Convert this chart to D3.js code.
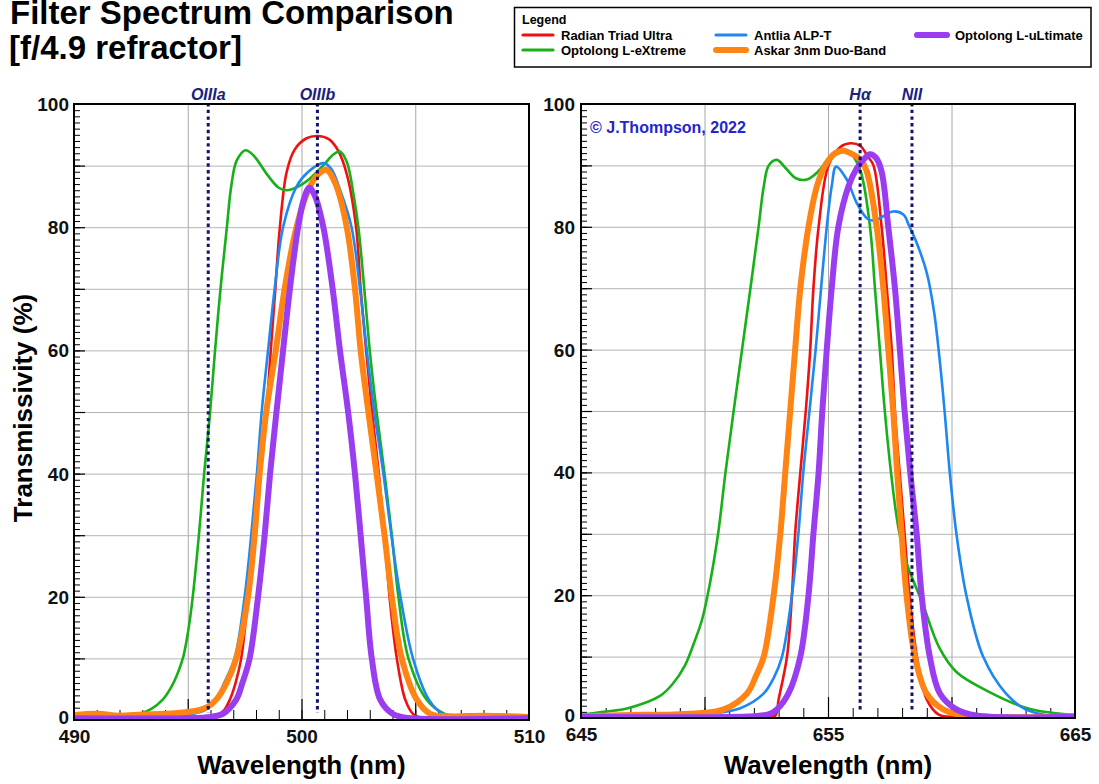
<!DOCTYPE html>
<html><head><meta charset="utf-8">
<script src="https://cdn.jsdelivr.net/npm/d3@7"></script>
<style>body{margin:0;background:#fff} svg{display:block;font-family:"Liberation Sans",Arial,sans-serif}</style>
</head><body>
<svg id="c" width="1099" height="784"></svg>
<script>
// ---------------- DATA ----------------
const seriesNames = ["Radian Triad Ultra","Optolong L-eXtreme","Antlia ALP-T","Askar 3nm Duo-Band","Optolong L-uLtimate"];
const yTickLabels = [0,20,40,60,80,100];
const oiiiTickLabels = [490,500,510];
const haTickLabels = [645,655,665];
const oiiiEmission = [["OIIIa",495.9],["OIIIb",500.7]];
const haEmission = [["H\u03B1",656.3],["NII",658.4]];

// OIII panel [wavelength nm, transmissivity %]
const oiiiRadian = [[490,0.2],[494,0.2],[495.8,0.3],[496.3,0.8],[496.6,1.6],[496.85,3.3],[497.1,6],[497.35,10],[497.65,20],[497.9,30],[498.15,40],[498.45,50],[498.65,60],[498.85,70],[499.05,80],[499.35,89],[499.7,92.6],[500.2,94.4],[500.7,94.8],[501.2,94.3],[501.6,92.5],[502.0,88.5],[502.4,80],[502.6,70],[502.84,60],[503.1,50],[503.4,40],[503.65,30],[503.87,20],[504.19,10],[504.56,3.3],[504.9,1],[505.3,0.3],[507,0.2],[510,0.2]];
const oiiiExtreme = [[490,0.5],[492,0.5],[492.9,1],[493.4,1.8],[493.9,3.3],[494.3,5.5],[494.55,7.5],[494.8,10.2],[495.0,14],[495.22,20],[495.49,30],[495.72,40],[495.96,49],[496.2,60],[496.44,70],[496.72,80],[496.91,86.6],[497.15,90.8],[497.54,92.5],[497.9,91.6],[498.5,88.5],[499.0,86.4],[499.34,86],[499.8,86.5],[500.4,88],[501.0,90.2],[501.4,91.8],[501.69,92.3],[502.0,90.5],[502.3,85],[502.5,80],[502.76,70],[503.0,60],[503.3,50],[503.65,40],[503.97,30],[504.26,20],[504.7,10],[505.5,3.3],[506.3,1],[507.5,0.5],[510,0.3]];
const oiiiAntlia = [[490,0.3],[494,0.5],[495.2,1],[495.8,1.7],[496.25,3.3],[496.6,6],[497.06,10],[497.5,20],[497.79,30],[498.04,40],[498.25,50],[498.53,60],[498.82,70],[499.19,80],[499.78,86.6],[500.3,89],[500.96,90.4],[501.3,89.5],[501.7,86],[502.2,80],[502.57,70],[502.87,60],[503.2,50],[503.6,40],[503.95,30],[504.35,20],[504.9,10],[505.6,3.3],[506.2,1],[507,0.5],[510,0.3]];
const oiiiAskar = [[490,0.8],[491,1.0],[492,0.7],[493,0.9],[494,1.0],[495,1.3],[495.5,1.6],[495.9,2.2],[496.25,3.3],[496.7,6],[497.13,10],[497.65,20],[497.94,30],[498.16,40],[498.45,50],[498.87,60],[499.26,70],[499.78,80],[500.37,86.6],[500.8,88.8],[501.1,89.3],[501.5,87],[501.99,80],[502.35,70],[502.6,60],[502.94,50],[503.3,40],[503.65,30],[503.97,20],[504.41,10],[505.07,3.3],[505.66,1],[506.5,0.6],[508,0.7],[510,0.5]];
const oiiiUltimate = [[490,0.3],[495,0.3],[496,0.5],[496.54,1],[497.13,3.3],[497.4,6],[497.72,10],[498.09,20],[498.38,30],[498.62,40],[498.9,50],[499.19,60],[499.49,70],[499.85,80],[500.1,84.5],[500.34,86.4],[500.6,85],[500.96,80],[501.37,70],[501.69,60],[502.05,50],[502.35,40],[502.6,30],[502.84,20],[503.09,10],[503.46,3.3],[504.0,1],[504.5,0.4],[510,0.3]];

// H-alpha panel
const haRadian = [[645,0.2],[652.5,0.2],[652.87,0.4],[653.0,3],[653.34,10],[653.54,20],[653.67,30],[653.88,40],[654.1,50],[654.28,60],[654.41,70],[654.62,80],[655.02,90],[655.5,93],[655.9,93.6],[656.3,93.2],[656.6,91.5],[656.84,90],[657.17,80],[657.38,70],[657.58,60],[657.71,50],[657.9,40],[658.1,30],[658.3,20],[658.6,10],[659.0,3],[659.5,0.5],[660,0.2],[665,0.2]];
const haExtreme = [[645,0.5],[645.9,1.0],[646.9,1.6],[648.2,3.6],[648.7,5.5],[649.2,8.5],[649.6,12.5],[649.9,16],[650.2,21.5],[650.55,30],[650.85,40],[651.18,50],[651.52,60],[651.86,70],[652.19,80],[652.4,86.6],[652.6,90],[652.93,90.9],[653.3,89.5],[653.7,87.9],[654.15,87.7],[654.6,89],[655.0,91],[655.5,92.5],[655.9,92],[656.3,89.3],[656.7,80],[656.9,70],[657.1,60],[657.3,50],[657.55,40],[657.85,31],[658.2,25],[658.8,19],[659.5,11.5],[660.2,7.5],[661.5,4.3],[662.9,1.8],[663.6,1.1],[665,0.5]];
const haAntlia = [[645,0.3],[649,0.3],[650,0.6],[651.45,1.6],[652.4,4],[652.8,6.5],[653.14,10],[653.54,20],[653.8,30],[654.0,40],[654.25,50],[654.5,60],[654.72,70],[654.95,80],[655.15,86.6],[655.33,89.8],[655.76,87.7],[656.16,83.9],[656.57,81.4],[656.84,81],[657.1,81.4],[657.64,82.5],[658.05,82],[658.3,80],[658.59,77.4],[659.0,72.5],[659.3,66],[659.53,58],[659.72,50],[659.93,40],[660.2,30],[660.6,20],[661.28,10],[662.2,4],[663.0,1.4],[663.8,0.5],[665,0.2]];
const haAskar = [[645,0.3],[647,0.5],[649,0.6],[650.78,1.4],[651.72,4],[652.1,7],[652.4,10],[652.8,20],[653.07,30],[653.27,40],[653.47,50],[653.67,60],[653.88,70],[654.21,80],[654.55,86.6],[654.89,90],[655.3,92],[655.63,92.4],[656.0,91.8],[656.3,91],[656.57,89],[656.97,80],[657.24,70],[657.44,60],[657.64,50],[657.8,40],[657.98,30],[658.18,20],[658.52,10],[658.99,4],[659.66,1.4],[660.5,0.4],[665,0.3]];
const haUltimate = [[645,0.2],[652,0.3],[652.6,0.6],[652.93,1.4],[653.4,4],[653.88,10],[654.21,20],[654.41,30],[654.62,40],[654.77,50],[654.95,60],[655.15,70],[655.42,80],[655.83,86.6],[656.16,89.5],[656.45,91],[656.7,91.8],[656.95,91.2],[657.17,89],[657.44,80],[657.71,70],[657.91,60],[658.1,50],[658.33,40],[658.59,30],[658.79,20],[659.12,10],[659.53,4],[660.2,1.4],[661,0.4],[665,0.2]];

// ---------------- STYLE ----------------
const colors = ["#f01010","#18b018","#1e88f0","#ff8414","#9a3cf0"];
const widths = [2.6,2.6,2.6,6,6];
const FONT = '"Liberation Sans", Arial, sans-serif';
const svg = d3.select("#c");

// title
svg.append("text").attr("x",10).attr("y",24).attr("font-size",33).attr("font-weight","bold").text("Filter Spectrum Comparison");
svg.append("text").attr("x",9).attr("y",59).attr("font-size",33).attr("font-weight","bold").text("[f/4.9 refractor]");

// y title
svg.append("text").attr("transform","translate(32,408) rotate(-90)").attr("text-anchor","middle")
  .attr("font-size",26).attr("font-weight","bold").text("Transmissivity (%)");

// legend
const lg = svg.append("g");
lg.append("rect").attr("x",514.5).attr("y",7.5).attr("width",576.5).attr("height",59.5).attr("fill","#fff").attr("stroke","#000").attr("stroke-width",1.5);
lg.append("text").attr("x",522).attr("y",24).attr("font-size",12.5).attr("font-weight","bold").text("Legend");
const legPos = [[521,35],[521,50],[714,35],[714,50],[915,35]];
seriesNames.forEach((n,i)=>{
  const [lx,ly]=legPos[i];
  lg.append("line").attr("x1",lx+2).attr("x2",lx+32).attr("y1",ly).attr("y2",ly)
    .attr("stroke",colors[i]).attr("stroke-width",widths[i]>4?6:3.2).attr("stroke-linecap","round");
  lg.append("text").attr("x",lx+40).attr("y",ly+4.5).attr("font-size",13).attr("font-weight","bold").text(n);
});

function panel(cfg){
  const {x0,x1,top,bottom,domain,series,emission,gridX,labelsX,clipId,yPad} = cfg;
  const x = d3.scaleLinear().domain(domain).range([x0,x1]);
  const y = d3.scaleLinear().domain([0,100]).range([bottom,top]);
  const g = svg.append("g");
  const h = bottom-top, w = x1-x0;
  // grid
  g.append("g").attr("transform",`translate(0,${bottom})`)
    .call(d3.axisBottom(x).tickValues(gridX).tickSize(-h).tickFormat(""))
    .call(a=>{a.select(".domain").remove();a.selectAll("line").attr("stroke","#a8a8a8").attr("stroke-width",1);});
  g.append("g").attr("transform",`translate(${x0},0)`)
    .call(d3.axisLeft(y).tickValues(d3.range(10,100,10)).tickSize(-w).tickFormat(""))
    .call(a=>{a.select(".domain").remove();a.selectAll("line").attr("stroke","#b4b4b4").attr("stroke-width",1);});
  // minor/major ticks
  g.append("g").attr("transform",`translate(0,${bottom})`)
    .call(d3.axisBottom(x).tickValues(d3.range(domain[0]+1,domain[1],1)).tickSize(-10).tickFormat(""))
    .call(a=>{a.select(".domain").remove();a.selectAll("line").attr("stroke","#000").attr("stroke-width",1);});
  g.append("g").attr("transform",`translate(0,${bottom})`)
    .call(d3.axisBottom(x).tickValues(gridX).tickSize(-21).tickFormat(""))
    .call(a=>{a.select(".domain").remove();a.selectAll("line").attr("stroke","#000").attr("stroke-width",1.2);});
  g.append("g").attr("transform",`translate(${x0},0)`)
    .call(d3.axisLeft(y).tickValues(d3.range(1,100,1)).tickSize(-6).tickFormat(""))
    .call(a=>{a.select(".domain").remove();a.selectAll("line").attr("stroke","#000").attr("stroke-width",1);});
  g.append("g").attr("transform",`translate(${x0},0)`)
    .call(d3.axisLeft(y).tickValues(d3.range(10,100,10)).tickSize(-11).tickFormat(""))
    .call(a=>{a.select(".domain").remove();a.selectAll("line").attr("stroke","#000").attr("stroke-width",1.2);});
  // tick labels
  g.append("g").attr("transform",`translate(0,${bottom})`)
    .call(d3.axisBottom(x).tickValues(labelsX).tickSize(0).tickPadding(10).tickFormat(d3.format("d")))
    .call(a=>{a.select(".domain").remove();a.selectAll("text").attr("font-size",19).attr("font-weight","bold").attr("font-family",FONT).attr("fill","#111");});
  g.append("g").attr("transform",`translate(${x0},0)`)
    .call(d3.axisLeft(y).tickValues(yTickLabels).tickSize(0).tickPadding(yPad).tickFormat(d3.format("d")))
    .call(a=>{a.select(".domain").remove();a.selectAll("text").attr("font-size",19).attr("font-weight","bold").attr("font-family",FONT).attr("fill","#111")
      .attr("dy",d=>d===0?"0.18em":"0.34em");});
  // clip
  svg.append("clipPath").attr("id",clipId).append("rect").attr("x",x0).attr("y",top).attr("width",w).attr("height",h);
  const line = d3.line().x(d=>x(d[0])).y(d=>y(d[1])).curve(d3.curveCatmullRom.alpha(0.5));
  const cg = g.append("g").attr("clip-path",`url(#${clipId})`);
  series.forEach((s,i)=>{
    cg.append("path").datum(s).attr("d",line).attr("fill","none").attr("stroke",colors[i])
      .attr("stroke-width",widths[i]).attr("stroke-linejoin","round").attr("stroke-linecap","round");
  });
  // emission lines
  emission.forEach(([lab,nm])=>{
    g.append("line").attr("x1",x(nm)).attr("x2",x(nm)).attr("y1",top-1).attr("y2",bottom-7)
      .attr("stroke","#14146e").attr("stroke-width",3).attr("stroke-dasharray","3.4 3.3");
    g.append("text").attr("x",x(nm)).attr("y",top-4).attr("text-anchor","middle").attr("font-size",16)
      .attr("font-weight","bold").attr("font-style","italic").attr("fill","#1a2180").text(lab);
  });
  // frame
  g.append("rect").attr("x",x0).attr("y",top).attr("width",w).attr("height",h).attr("fill","none").attr("stroke","#000").attr("stroke-width",2);
  // x title
  svg.append("text").attr("x",(x0+x1)/2).attr("y",774).attr("text-anchor","middle").attr("font-size",26).attr("font-weight","bold").text("Wavelength (nm)");
  return {x,y};
}

panel({x0:74,x1:529,top:104,bottom:720,domain:[490,510],series:[oiiiRadian,oiiiExtreme,oiiiAntlia,oiiiAskar,oiiiUltimate],
  emission:oiiiEmission,gridX:[495,500,505],labelsX:oiiiTickLabels,clipId:"clipL",yPad:5});
panel({x0:581,x1:1075,top:104,bottom:718,domain:[645,665],series:[haRadian,haExtreme,haAntlia,haAskar,haUltimate],
  emission:haEmission,gridX:[650,655,660],labelsX:haTickLabels,clipId:"clipR",yPad:6});

svg.append("text").attr("x",590).attr("y",133).attr("font-size",16).attr("font-weight","bold").attr("fill","#2424d0").text("\u00A9 J.Thompson, 2022");
</script>
</body></html>
